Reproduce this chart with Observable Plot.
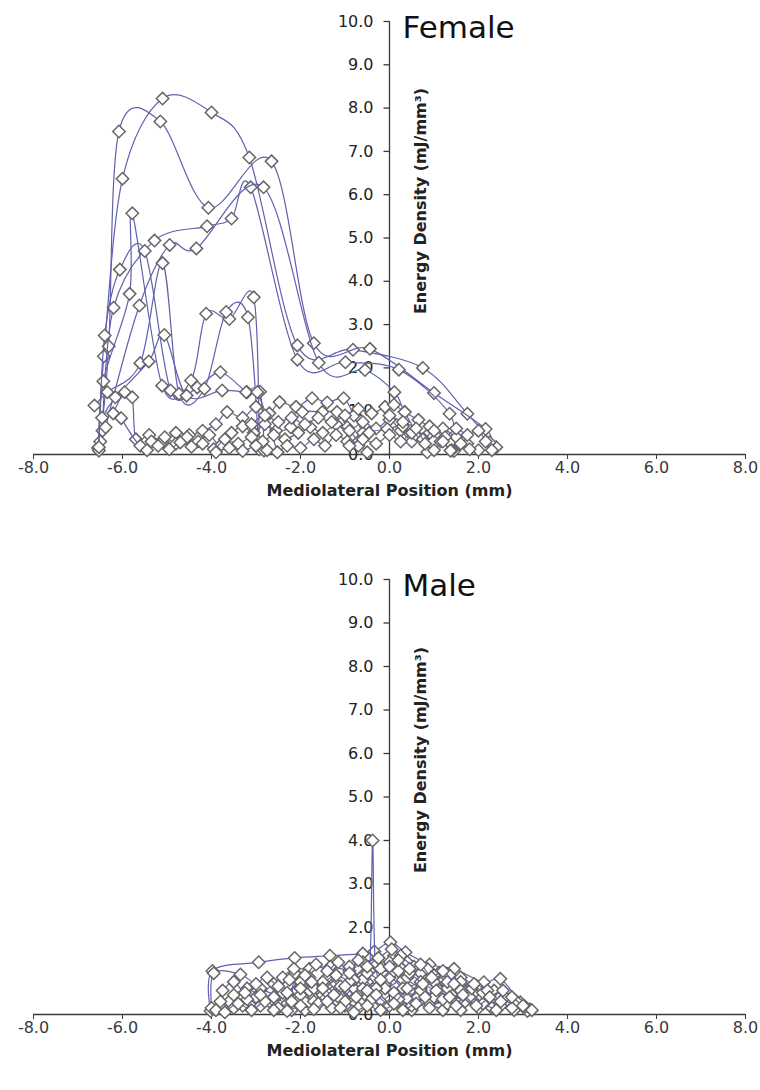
<!DOCTYPE html>
<html><head><meta charset="utf-8">
<script src="https://cdn.jsdelivr.net/npm/d3@7"></script>
<script src="https://cdn.jsdelivr.net/npm/@observablehq/plot@0.6"></script>
<style>
html,body{margin:0;padding:0;background:#fff;}
#chart svg{display:block;}
</style></head><body><div id="chart"></div>
<script>
// ---------- axis definitions ----------
const xTicks = [-8, -6, -4, -2, 0, 2, 4, 6, 8];
const yTicks = [0, 1, 2, 3, 4, 5, 6, 7, 8, 9, 10];
const xLabel = "Mediolateral Position (mm)";
const yLabel = "Energy Density (mJ/mm³)";
const panelTitles = ["Female", "Male"];

// ---------- Female series: [position mm, energy density] ----------
const f1 = [[-6.55,0.15],[-6.42,2.27],[-6.0,6.37],[-5.1,8.22],[-4.0,7.9],[-3.15,6.86],[-2.07,2.52],[-0.82,2.42],[0.75,2.0],[1.75,0.94],[2.4,0.17]];
const f2 = [[-6.5,0.3],[-6.31,2.5],[-6.08,7.46],[-5.15,7.69],[-4.07,5.7],[-2.65,6.77],[-1.7,2.57],[-0.44,2.44],[1.0,1.42],[2.16,0.59],[2.25,0.28]];
const f3 = [[-6.45,0.55],[-6.2,3.39],[-5.28,4.94],[-4.1,5.27],[-3.55,5.45],[-3.12,6.17],[-2.07,2.19],[-0.99,2.13],[0.21,1.96],[1.35,0.94],[1.45,0.08]];
const f4 = [[-6.38,0.63],[-5.62,3.44],[-4.94,4.84],[-4.34,4.76],[-2.83,6.17],[-1.59,2.12],[-0.55,1.95],[0.11,1.44],[0.34,0.98],[0.85,0.05]];
const f5 = [[-6.53,0.09],[-6.43,1.69],[-5.84,3.71],[-5.78,5.57],[-5.11,1.59],[-4.46,1.71],[-4.12,3.25],[-3.6,3.13],[-3.05,3.63],[-2.93,0.12]];
const f6 = [[-6.53,0.17],[-6.4,2.75],[-6.06,4.27],[-5.5,4.7],[-4.92,1.48],[-4.32,1.55],[-3.8,1.9],[-3.2,1.44],[-2.91,1.45],[-2.82,0.09]];
const f7 = [[-6.63,1.13],[-6.34,1.44],[-5.6,2.11],[-5.1,4.42],[-4.73,1.4],[-4.16,1.52],[-3.67,3.29],[-3.18,3.17],[-2.95,0.3]];
const f8 = [[-6.46,0.85],[-6.16,1.32],[-5.41,2.15],[-5.06,2.76],[-4.56,1.36],[-3.76,1.48],[-3.22,1.44],[-2.97,1.44],[-2.52,0.05]];
const f9 = [[-6.21,0.95],[-5.95,1.44],[-5.78,1.32],[-5.7,0.35],[-5.4,0.45],[-5.1,0.3],[-4.8,0.5],[-4.5,0.45],[-4.2,0.55],[-3.9,0.7],[-3.65,0.98],[-3.3,0.85],[-3.0,1.1],[-2.7,0.95],[-2.47,1.21],[-2.1,1.1],[-1.74,1.3],[-1.4,1.2],[-1.03,1.3],[-0.8,0.9],[-0.6,0.5]];
const f10 = [[-6.03,0.84],[-5.6,0.2],[-5.35,0.3],[-5.05,0.4],[-4.8,0.25],[-4.55,0.4],[-4.3,0.3],[-4.05,0.45],[-3.8,0.2],[-3.55,0.5],[-3.3,0.65],[-3.05,0.5],[-2.8,0.7],[-2.55,0.55],[-2.22,0.63],[-1.96,0.98],[-1.51,0.98],[-1.18,0.98],[-0.95,0.63],[-0.7,0.3],[-0.5,0.05]];
const f11 = [[-5.45,0.1],[-5.2,0.2],[-4.95,0.12],[-4.7,0.28],[-4.45,0.18],[-4.2,0.25],[-3.95,0.12],[-3.7,0.35],[-3.4,0.25],[-3.1,0.4],[-2.85,0.3],[-2.6,0.45],[-2.35,0.35],[-2.05,0.5],[-1.78,0.63],[-1.5,0.5],[-1.2,0.7],[-0.9,0.55],[-0.6,0.75],[-0.3,0.6],[0.0,0.8],[0.25,0.55],[0.5,0.3]];
const f12 = [[-3.9,0.05],[-3.6,0.15],[-3.3,0.08],[-3.0,0.2],[-2.75,0.1],[-2.52,0.05],[-2.3,0.2],[-2.0,0.15],[-1.7,0.35],[-1.45,0.2],[-1.2,0.45],[-0.95,0.3],[-0.7,0.2],[-0.46,0.5],[-0.05,0.59],[0.3,0.65],[0.6,0.45],[0.9,0.5],[1.15,0.3],[1.4,0.1]];
const f13 = [[-3.1,0.7],[-2.8,0.9],[-2.5,0.75],[-2.2,0.85],[-1.9,0.7],[-1.6,0.85],[-1.3,0.75],[-1.0,0.9],[-0.7,1.05],[-0.4,0.95],[-0.1,1.1],[0.1,1.15],[0.34,0.98],[0.65,0.8],[0.9,0.65],[1.2,0.6],[1.5,0.4],[1.75,0.25],[2.0,0.1]];
const f14 = [[-0.9,0.2],[-0.6,0.35],[-0.3,0.25],[0.0,0.45],[0.25,0.3],[0.5,0.5],[0.75,0.35],[1.0,0.55],[1.25,0.4],[1.5,0.6],[1.75,0.45],[2.0,0.55],[2.16,0.3],[2.3,0.1]];
const f15 = [[0.0,0.9],[0.3,0.75],[0.6,0.6],[0.8,0.25],[1.0,0.1],[1.2,0.3],[1.37,0.09],[1.6,0.25],[1.8,0.12]];
const femaleSeries = [f1, f2, f3, f4, f5, f6, f7, f8, f9, f10, f11, f12, f13, f14, f15];

// ---------- Male series ----------
const m1 = [[-4.02,0.08],[-3.98,1.0],[-2.94,1.2],[-2.13,1.3],[-1.34,1.35],[-0.6,1.4],[-0.34,1.45],[0.02,1.66],[0.36,1.43],[0.9,1.15],[1.45,1.05],[2.12,0.74],[2.49,0.82],[2.94,0.28],[3.15,0.12]];
const mSpike = [[-1.0,0.2],[-0.7,0.45],[-0.45,1.0],[-0.38,4.0],[-0.32,1.2],[-0.1,0.7],[0.2,0.3],[0.5,0.1]];
const m2 = [[-4.0,0.15],[-3.95,0.95],[-3.35,0.92],[-2.9,0.6],[-2.5,0.45],[-2.1,0.55],[-1.7,0.4],[-1.3,0.6],[-0.9,0.5],[-0.5,0.75],[-0.1,0.6],[0.3,0.8],[0.7,0.6],[1.1,0.4],[1.5,0.5],[1.9,0.3],[2.3,0.15]];
const m3 = [[-2.2,0.1],[-2.12,0.95],[-1.8,1.05],[-1.33,1.1],[-0.9,1.0],[-0.6,0.9],[-0.2,1.05],[0.1,1.35],[0.4,1.2],[0.8,0.95],[1.2,0.8],[1.6,0.85],[2.0,0.6],[2.4,0.45],[2.8,0.2],[3.1,0.08]];
const m4 = [[-3.9,0.1],[-3.6,0.3],[-3.3,0.2],[-3.0,0.4],[-2.7,0.3],[-2.4,0.5],[-2.1,0.35],[-1.8,0.55],[-1.5,0.45],[-1.2,0.7],[-0.9,0.55],[-0.6,0.8],[-0.3,0.6],[0.0,0.85],[0.3,0.6],[0.6,0.4],[0.9,0.25],[1.2,0.1]];
const m5 = [[-3.8,0.3],[-3.5,0.15],[-3.2,0.35],[-2.9,0.2],[-2.6,0.4],[-2.3,0.25],[-2.0,0.45],[-1.7,0.3],[-1.4,0.5],[-1.1,0.35],[-0.8,0.6],[-0.5,0.4],[-0.2,0.3],[0.1,0.5],[0.4,0.35],[0.7,0.55],[1.0,0.4],[1.3,0.25],[1.6,0.1]];
const m6 = [[-3.7,0.05],[-3.4,0.25],[-3.1,0.1],[-2.8,0.3],[-2.5,0.15],[-2.2,0.3],[-1.9,0.1],[-1.6,0.25],[-1.3,0.15],[-1.0,0.3],[-0.7,0.15],[-0.4,0.35],[-0.1,0.15],[0.2,0.35],[0.5,0.2],[0.8,0.4],[1.1,0.6],[1.4,0.45],[1.7,0.3],[2.0,0.15]];
const m7 = [[-3.5,0.45],[-3.2,0.6],[-2.9,0.45],[-2.6,0.7],[-2.3,0.5],[-2.0,0.75],[-1.7,0.6],[-1.4,0.85],[-1.1,0.65],[-0.8,0.8],[-0.5,0.95],[-0.2,0.8],[0.1,1.0],[0.4,0.85],[0.7,0.95],[1.0,0.75],[1.3,0.6],[1.6,0.7],[1.9,0.5],[2.2,0.35],[2.5,0.2],[2.8,0.1]];
const m8 = [[-1.8,0.85],[-1.5,0.75],[-1.2,0.9],[-0.9,0.75],[-0.6,0.6],[-0.3,0.45],[0.0,0.2],[0.3,0.1],[0.6,0.25],[0.9,0.15],[1.2,0.35],[1.5,0.2],[1.8,0.4],[2.1,0.25],[2.4,0.1]];
const m9 = [[-0.9,1.1],[-0.6,1.2],[-0.25,1.3],[0.05,1.5],[0.25,1.35],[0.55,1.1],[0.85,1.05],[1.1,0.95],[1.35,0.9],[1.6,0.75],[1.85,0.6],[2.1,0.5],[2.35,0.55],[2.6,0.4],[2.85,0.3],[3.05,0.18],[3.2,0.1]];
const m10 = [[-2.6,0.1],[-2.3,0.08],[-2.0,0.2],[-1.7,0.12],[-1.4,0.3],[-1.1,0.15],[-0.8,0.05],[-0.5,0.2],[-0.2,0.1],[0.1,0.25],[0.4,0.6],[0.7,0.75],[1.0,0.9],[1.3,0.75],[1.6,0.55],[1.9,0.7],[2.2,0.55],[2.5,0.3],[2.75,0.15]];
const m11 = [[0.0,1.2],[0.2,1.0],[0.45,0.95],[0.75,0.7],[1.05,0.55],[1.35,0.4],[1.65,0.45],[1.95,0.2],[2.25,0.4],[2.55,0.55],[2.75,0.4],[3.0,0.2]];
const m12 = [[-2.4,0.85],[-2.15,1.05],[-1.9,0.9],[-1.65,1.15],[-1.4,1.0],[-1.15,1.2],[-0.9,0.95],[-0.7,1.25],[-0.5,1.1],[-0.25,1.3],[0.0,1.1],[0.2,1.25],[0.45,1.05],[0.7,1.15],[0.95,0.85],[1.2,1.0],[1.45,0.7]];
const m13 = [[-3.75,0.55],[-3.5,0.75],[-3.25,0.5],[-3.0,0.7],[-2.75,0.85],[-2.5,0.65],[-2.25,0.8],[-2.0,0.6],[-1.75,0.75],[-1.5,0.6],[-1.25,0.45],[-1.0,0.65],[-0.75,0.4],[-0.5,0.55]];
const maleSeries = [m1, mSpike, m2, m3, m4, m5, m6, m7, m8, m9, m10, m11, m12, m13];

// ---------- styling ----------
const axisColor = "#3a3a3a";
const lineColor = "#6060ae";
const markerStroke = "#666666";
const fontFamily = "DejaVu Sans";
const yTickMark = {draw(ctx) { ctx.moveTo(-6, 0); ctx.lineTo(0, 0); }};

function panel(title, series, height, marginBottom) {
  const marks = [
    Plot.ruleY([0], {stroke: axisColor, strokeWidth: 1.3}),
    Plot.ruleX([0], {stroke: axisColor, strokeWidth: 1.3}),
    Plot.dot(yTicks, {x: 0, y: d => d, symbol: yTickMark, stroke: axisColor, strokeWidth: 1.3}),
    Plot.text(yTicks, {x: 0, y: d => d, text: d => d.toFixed(1), textAnchor: "end", dx: -16, fontSize: 16, fill: "#222"}),
    Plot.axisX(xTicks, {tickFormat: d => d.toFixed(1), tickSize: 5, tickPadding: 2, fontSize: 16, color: axisColor, label: null}),
    Plot.text([xLabel], {frameAnchor: "bottom", dy: 41, fontWeight: "bold", fontSize: 16, fill: "#222"}),
    Plot.text([yLabel], {frameAnchor: "middle", dx: 31, dy: -37, rotate: -90, fontWeight: "bold", fontSize: 16, fill: "#222"}),
    Plot.text([title], {frameAnchor: "top-left", dx: 369, dy: 7, textAnchor: "start", lineAnchor: "middle", fontSize: 31, fill: "#111"})
  ];
  for (const s of series) {
    marks.push(Plot.line(s, {x: d => d[0], y: d => d[1], curve: "cardinal", stroke: lineColor, strokeWidth: 1.2}));
    marks.push(Plot.dot(s, {x: d => d[0], y: d => d[1], symbol: "diamond2", r: 5.6, fill: "white", stroke: markerStroke, strokeWidth: 1.5}));
  }
  return Plot.plot({
    width: 760, height,
    marginTop: 21, marginBottom, marginLeft: 33, marginRight: 15,
    style: {fontFamily, fontSize: "16px", background: "white"},
    x: {domain: [-8, 8]},
    y: {domain: [0, 10], axis: null},
    marks
  });
}

const root = document.getElementById("chart");
root.appendChild(panel(panelTitles[0], femaleSeries, 558, 104));
root.appendChild(panel(panelTitles[1], maleSeries, 532, 76));
</script>
</body></html>
